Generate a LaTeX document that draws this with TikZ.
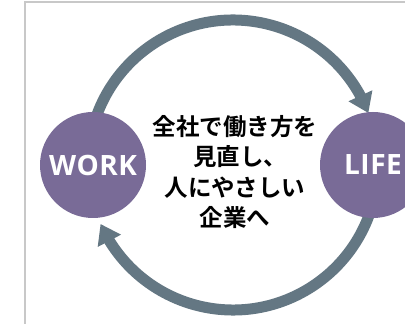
\documentclass[tikz,border=0pt]{standalone}
\usepackage{fontspec}
\newfontfamily\jpfont{Noto Sans CJK JP Bold}
\newfontfamily\latinfont{Open Sans}
\usetikzlibrary{arrows.meta,bending,calc}
\definecolor{arcgray}{RGB}{100,119,131}
\definecolor{lifepurple}{RGB}{121,107,151}
\definecolor{framegray}{RGB}{200,200,200}
\tikzset{
  bubble/.style={circle,fill=lifepurple,minimum size=106pt,inner sep=0pt,
    text=white,font=\latinfont\bfseries\fontsize{28}{28}\selectfont},
  cyclearc/.style={draw=arcgray,line width=11pt,
    arrows={-Triangle[width=25pt,length=19pt]}},
  frameline/.style={draw=framegray,line width=1.6pt}
}
\begin{document}
\begin{tikzpicture}[x=1pt,y=1pt]
\useasboundingbox (0,0) rectangle (405,324);
\fill[white] (0,0) rectangle (405,324);
\coordinate (fbl) at (25,0);
\coordinate (ftl) at (25,322);
\coordinate (ftr) at (405,322);
\draw[frameline] (fbl) -- (ftl) -- (ftr);
\coordinate (c) at (233,159);
\draw[cyclearc] ($(c)+(170:145)$) arc[start angle=170,end angle=21,radius=145];
\draw[cyclearc] ($(c)+(-10:145)$) arc[start angle=-10,end angle=-156,radius=145];
\node[bubble] (work) at (93,159) {W\kern0.5pt O\kern0.5pt R\kern0.5pt K};
\node[bubble] (life) at (373,159) {L\kern0.5pt I\kern0.5pt F\kern0.5pt E};
\node[align=center,font=\jpfont\fontsize{23.5}{30.5}\selectfont,inner sep=0pt] (msg) at (235,152)
  {全社で働き方を\\見直し\makebox[0.55em][l]{、}\\人にやさしい\\企業へ};
\end{tikzpicture}
\end{document}
